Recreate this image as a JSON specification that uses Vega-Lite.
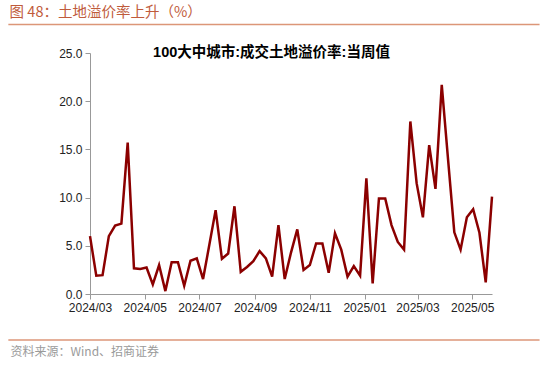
{
  "$schema": "https://vega.github.io/schema/vega-lite/v6.json",
  "autosize": {"type": "none"},
  "padding": {"left": 90, "top": 53, "right": 58, "bottom": 95},
  "width": 402,
  "height": 241,
  "background": "white",
  "title": {
    "text": "图 48：土地溢价率上升（%）",
    "anchor": "start",
    "frame": "bounds",
    "font": "Noto Sans CJK SC",
    "fontSize": 14.5,
    "fontWeight": "normal",
    "color": "#BF5B3B",
    "offset": 3,
    "dx": 2
  },
  "config": {
    "view": {"stroke": null},
    "axis": {
      "labelFont": "Liberation Sans",
      "labelFontSize": 12,
      "labelColor": "#222222",
      "domainColor": "#999999",
      "tickColor": "#999999",
      "grid": false,
      "tickSize": 5
    }
  },
  "resolve": {"axis": {"x": "independent", "y": "independent"}},
  "layer": [
    {
      "data": {
        "values": [
          {"date": "2024/03/01", "v": 6.0},
          {"date": "2024/03/08", "v": 1.9},
          {"date": "2024/03/15", "v": 1.95},
          {"date": "2024/03/22", "v": 6.0},
          {"date": "2024/03/29", "v": 7.1},
          {"date": "2024/04/05", "v": 7.3},
          {"date": "2024/04/12", "v": 15.7},
          {"date": "2024/04/19", "v": 2.66},
          {"date": "2024/04/26", "v": 2.6},
          {"date": "2024/05/03", "v": 2.75},
          {"date": "2024/05/10", "v": 1.0},
          {"date": "2024/05/17", "v": 3.0},
          {"date": "2024/05/24", "v": 0.3},
          {"date": "2024/05/31", "v": 3.3},
          {"date": "2024/06/07", "v": 3.3},
          {"date": "2024/06/14", "v": 0.85},
          {"date": "2024/06/21", "v": 3.45},
          {"date": "2024/06/28", "v": 3.7},
          {"date": "2024/07/05", "v": 1.55},
          {"date": "2024/07/12", "v": 5.1},
          {"date": "2024/07/19", "v": 8.7},
          {"date": "2024/07/26", "v": 3.66},
          {"date": "2024/08/02", "v": 4.2},
          {"date": "2024/08/09", "v": 9.1},
          {"date": "2024/08/16", "v": 2.3},
          {"date": "2024/08/23", "v": 2.8},
          {"date": "2024/08/30", "v": 3.4},
          {"date": "2024/09/06", "v": 4.45},
          {"date": "2024/09/13", "v": 3.7},
          {"date": "2024/09/20", "v": 1.8},
          {"date": "2024/09/27", "v": 7.15},
          {"date": "2024/10/04", "v": 1.55},
          {"date": "2024/10/11", "v": 4.3},
          {"date": "2024/10/18", "v": 6.7},
          {"date": "2024/10/25", "v": 2.5},
          {"date": "2024/11/01", "v": 3.0},
          {"date": "2024/11/08", "v": 5.25},
          {"date": "2024/11/15", "v": 5.25},
          {"date": "2024/11/22", "v": 2.2},
          {"date": "2024/11/29", "v": 6.3},
          {"date": "2024/12/06", "v": 4.6},
          {"date": "2024/12/13", "v": 1.8},
          {"date": "2024/12/20", "v": 2.9},
          {"date": "2024/12/27", "v": 1.9},
          {"date": "2025/01/03", "v": 12.0},
          {"date": "2025/01/10", "v": 1.1},
          {"date": "2025/01/17", "v": 9.9},
          {"date": "2025/01/24", "v": 9.9},
          {"date": "2025/01/31", "v": 7.15},
          {"date": "2025/02/07", "v": 5.4},
          {"date": "2025/02/14", "v": 4.6},
          {"date": "2025/02/21", "v": 17.9},
          {"date": "2025/02/28", "v": 11.5},
          {"date": "2025/03/07", "v": 7.95},
          {"date": "2025/03/14", "v": 15.45},
          {"date": "2025/03/21", "v": 10.9},
          {"date": "2025/03/28", "v": 21.7},
          {"date": "2025/04/04", "v": 14.0},
          {"date": "2025/04/11", "v": 6.4},
          {"date": "2025/04/18", "v": 4.6},
          {"date": "2025/04/25", "v": 7.95},
          {"date": "2025/05/02", "v": 8.8},
          {"date": "2025/05/09", "v": 6.35},
          {"date": "2025/05/16", "v": 1.2},
          {"date": "2025/05/23", "v": 10.1}
        ]
      },
      "mark": {"type": "line", "color": "#8B0000", "strokeWidth": 2.5},
      "encoding": {
        "x": {
          "field": "date",
          "type": "temporal",
          "scale": {"domain": [{"year": 2024, "month": 3, "date": 1}, {"year": 2025, "month": 5, "date": 23}]},
          "axis": {
            "orient": "bottom",
            "values": [
              {"year": 2024, "month": 3, "date": 1},
              {"year": 2024, "month": 5, "date": 1},
              {"year": 2024, "month": 7, "date": 1},
              {"year": 2024, "month": 9, "date": 1},
              {"year": 2024, "month": 11, "date": 1},
              {"year": 2025, "month": 1, "date": 1},
              {"year": 2025, "month": 3, "date": 1},
              {"year": 2025, "month": 5, "date": 1}
            ],
            "format": "%Y/%m",
            "labelPadding": 3,
            "labelFlush": false,
            "labelOverlap": false,
            "title": "资料来源：Wind、招商证券",
            "titleFont": "Noto Sans CJK SC",
            "titleFontSize": 12,
            "titleFontWeight": "normal",
            "titleColor": "#9a9a9a",
            "titleX": -80,
            "titleY": 57,
            "titleAlign": "left",
            "titleBaseline": "middle"
          }
        },
        "y": {
          "field": "v",
          "type": "quantitative",
          "scale": {"domain": [0, 25], "nice": false},
          "axis": {"values": [0, 5, 10, 15, 20, 25], "format": ".1f", "labelPadding": 3, "title": null}
        }
      }
    },
    {
      "data": {"values": [{}]},
      "mark": {"type": "rule", "color": "#DC9678", "strokeWidth": 1.5},
      "encoding": {
        "x": {
          "datum": {"year": 2023, "month": 12, "date": 1},
          "type": "temporal",
          "axis": {
            "orient": "top",
            "labels": false,
            "ticks": false,
            "domain": false,
            "title": "100大中城市:成交土地溢价率:当周值",
            "titleFont": "Liberation Sans, Noto Sans CJK SC",
            "titleFontSize": 14.5,
            "titleFontWeight": "bold",
            "titleColor": "#000000",
            "titleX": 181,
            "titleY": 3,
            "titleAlign": "center",
            "titleBaseline": "alphabetic"
          }
        },
        "x2": {"datum": {"year": 2025, "month": 7, "date": 15}},
        "y": {"datum": 27.96, "type": "quantitative", "axis": null}
      }
    },
    {
      "data": {"values": [{}]},
      "mark": {"type": "rule", "color": "#DC9678", "strokeWidth": 1.5},
      "encoding": {
        "x": {"datum": {"year": 2023, "month": 12, "date": 1}, "type": "temporal", "axis": null},
        "x2": {"datum": {"year": 2025, "month": 7, "date": 15}},
        "y": {"datum": -4.77, "type": "quantitative", "axis": null}
      }
    }
  ]
}
